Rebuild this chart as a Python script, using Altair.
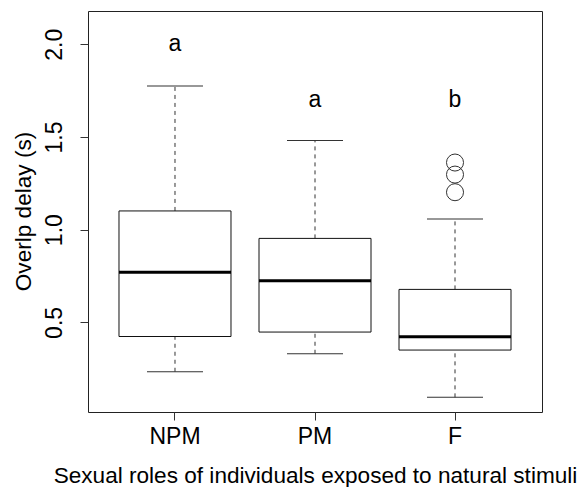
import altair as alt
import pandas as pd

groups = ["NPM", "PM", "F"]
lower_whisker = [0.234, 0.331, 0.096]
q1 = [0.424, 0.448, 0.351]
median = [0.771, 0.724, 0.423]
q3 = [1.101, 0.953, 0.678]
upper_whisker = [1.775, 1.481, 1.057]
outlier_groups = ["F", "F", "F"]
outlier_values = [1.362, 1.297, 1.202]
letters = ["a", "a", "b"]
letter_y = [2.0, 1.7, 1.7]
y_ticks = [0.5, 1.0, 1.5, 2.0]

FONT = "Liberation Sans"
FS = 23
TFS = 22.6

box_df = pd.DataFrame({
    "group": groups, "lo": lower_whisker, "q1": q1, "med": median,
    "q3": q3, "hi": upper_whisker, "letter": letters, "ly": letter_y,
})
out_df = pd.DataFrame({"group": outlier_groups, "val": outlier_values})

x_enc = alt.X(
    "group:N", sort=groups,
    scale=alt.Scale(paddingInner=0, paddingOuter=0.1214),
    axis=alt.Axis(
        title="Sexual roles of individuals exposed to natural stimuli",
        labelAngle=0, labelFont=FONT, labelFontSize=FS, labelColor="black",
        labelPadding=5, tickSize=8, tickColor="#333", domain=False,
        titleFont=FONT, titleFontSize=TFS, titleFontWeight="normal",
        titleColor="black", titleBaseline="alphabetic", titleY=70,
        titleX=227,
    ),
)
y_scale = alt.Scale(domain=[0.017, 2.179], nice=False, zero=False)
y_axis = alt.Axis(
    title="Overlp delay (s)", values=y_ticks, format=".1f", grid=False,
    labelAngle=270, labelAlign="center", labelBaseline="middle",
    labelFont=FONT, labelFontSize=FS, labelColor="black", labelPadding=26,
    tickSize=8, tickColor="#333", domain=False,
    titleFont=FONT, titleFontSize=TFS, titleFontWeight="normal",
    titleColor="black", titleAngle=270, titleBaseline="middle",
    titleX=-65, titleY=200,
)

base = alt.Chart(box_df)

upper_rule = base.mark_rule(color="#333", strokeDash=[4, 4], strokeWidth=1, opacity=1).encode(
    x=x_enc, y=alt.Y("q3:Q", scale=y_scale, axis=y_axis), y2="hi:Q")
lower_rule = base.mark_rule(color="#333", strokeDash=[4, 4], strokeWidth=1, opacity=1).encode(
    x=x_enc, y=alt.Y("lo:Q", scale=y_scale, axis=y_axis), y2="q1:Q")
boxes = base.mark_bar(size=112, fill="white", stroke="#111", strokeWidth=1, opacity=1).encode(
    x=x_enc, y=alt.Y("q1:Q", scale=y_scale, axis=y_axis), y2="q3:Q")
medians = base.mark_tick(size=112, thickness=3, color="black", opacity=1).encode(
    x=x_enc, y=alt.Y("med:Q", scale=y_scale, axis=y_axis))
staple_hi = base.mark_tick(size=56, thickness=1, color="#333", opacity=1).encode(
    x=x_enc, y=alt.Y("hi:Q", scale=y_scale, axis=y_axis))
staple_lo = base.mark_tick(size=56, thickness=1, color="#333", opacity=1).encode(
    x=x_enc, y=alt.Y("lo:Q", scale=y_scale, axis=y_axis))
labels = base.mark_text(font=FONT, fontSize=FS, color="black", baseline="middle").encode(
    x=x_enc, y=alt.Y("ly:Q", scale=y_scale, axis=y_axis), text="letter:N")
outliers = alt.Chart(out_df).mark_point(
    shape="circle", filled=False, size=290, color="#333", strokeWidth=1, opacity=1
).encode(x=x_enc, y=alt.Y("val:Q", scale=y_scale, axis=y_axis))

chart = alt.layer(
    upper_rule, lower_rule, boxes, medians, staple_hi, staple_lo, outliers, labels
).properties(
    width=454, height=401,
    autosize=alt.AutoSizeParams(type="none"),
    padding={"left": 88, "top": 11, "right": 40, "bottom": 75},
    background="white",
).configure_view(stroke="#222", strokeWidth=1)

chart.save("out.html", embed_options={"renderer": "svg", "actions": False})
